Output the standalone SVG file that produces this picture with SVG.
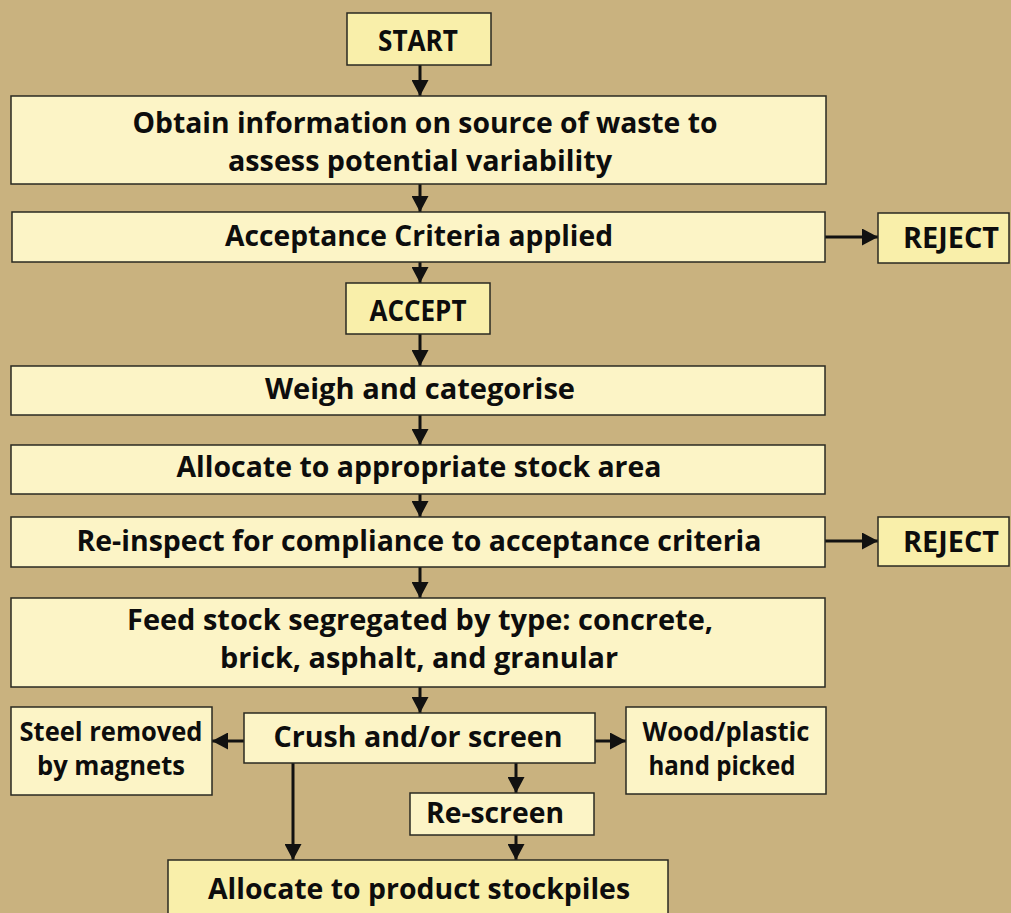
<svg xmlns="http://www.w3.org/2000/svg" width="1011" height="913" viewBox="0 0 1011 913">
<defs>
<style>
.bx{fill:#FCF4C6;stroke:#2a2a22;stroke-width:1.5}
.hy{fill:#F9EFAA}
.t{font-family:"Open Sans","DejaVu Sans",sans-serif;font-weight:700;font-size:29px;fill:#0d0d0d;text-anchor:middle}
.s{font-size:27px}
.c{stroke:#111;stroke-width:3;fill:none;marker-end:url(#ah)}
</style>
<marker id="ah" markerUnits="userSpaceOnUse" markerWidth="17" markerHeight="17" refX="16" refY="8.5" orient="auto">
<path d="M0,0 L16,8.5 L0,17 Z" fill="#111"/>
</marker>
</defs>
<rect width="1011" height="913" fill="#C9B27F"/>
<g id="connectors">
<line class="c" x1="420" y1="65" x2="420" y2="96"/>
<line class="c" x1="420" y1="184" x2="420" y2="212"/>
<line class="c" x1="825" y1="237" x2="878" y2="237"/>
<line class="c" x1="420" y1="262" x2="420" y2="283"/>
<line class="c" x1="420" y1="334" x2="420" y2="366"/>
<line class="c" x1="420" y1="415" x2="420" y2="445"/>
<line class="c" x1="420" y1="494" x2="420" y2="517"/>
<line class="c" x1="825" y1="541" x2="878" y2="541"/>
<line class="c" x1="420" y1="567" x2="420" y2="598"/>
<line class="c" x1="420" y1="687" x2="420" y2="713"/>
<line class="c" x1="244" y1="741" x2="212" y2="741"/>
<line class="c" x1="595" y1="741" x2="626" y2="741"/>
<line class="c" x1="516" y1="763" x2="516" y2="793"/>
<line class="c" x1="516" y1="835" x2="516" y2="860"/>
<line class="c" x1="293" y1="763" x2="293" y2="860"/>
</g>
<g id="start"><rect class="bx hy" x="347" y="13" width="144" height="52"/><text class="t" x="418" y="51" textLength="80" lengthAdjust="spacingAndGlyphs">START</text></g>
<g id="obtain"><rect class="bx" x="11" y="96" width="815" height="88"/><text class="t" x="425" y="133" textLength="585" lengthAdjust="spacingAndGlyphs">Obtain information on source of waste to</text><text class="t" x="420" y="171" textLength="384" lengthAdjust="spacingAndGlyphs">assess potential variability</text></g>
<g id="acceptance"><rect class="bx" x="12" y="212" width="813" height="50"/><text class="t" x="419" y="246" textLength="388" lengthAdjust="spacingAndGlyphs">Acceptance Criteria applied</text></g>
<g id="reject1"><rect class="bx hy" x="878" y="213" width="131" height="50"/><text class="t" x="951" y="248" textLength="96" lengthAdjust="spacingAndGlyphs">REJECT</text></g>
<g id="accept"><rect class="bx hy" x="346" y="283" width="144" height="51"/><text class="t" x="418" y="321" textLength="97" lengthAdjust="spacingAndGlyphs">ACCEPT</text></g>
<g id="weigh"><rect class="bx" x="11" y="366" width="814" height="49"/><text class="t" x="420" y="399" textLength="310" lengthAdjust="spacingAndGlyphs">Weigh and categorise</text></g>
<g id="allocate-stock"><rect class="bx" x="11" y="445" width="814" height="49"/><text class="t" x="419" y="477" textLength="485" lengthAdjust="spacingAndGlyphs">Allocate to appropriate stock area</text></g>
<g id="reinspect"><rect class="bx" x="11" y="517" width="814" height="50"/><text class="t" x="419" y="551" textLength="685" lengthAdjust="spacingAndGlyphs">Re-inspect for compliance to acceptance criteria</text></g>
<g id="reject2"><rect class="bx hy" x="878" y="517" width="131" height="49"/><text class="t" x="951" y="552" textLength="96" lengthAdjust="spacingAndGlyphs">REJECT</text></g>
<g id="feedstock"><rect class="bx" x="11" y="598" width="814" height="89"/><text class="t" x="420" y="630" textLength="586" lengthAdjust="spacingAndGlyphs">Feed stock segregated by type: concrete,</text><text class="t" x="419" y="668" textLength="398" lengthAdjust="spacingAndGlyphs">brick, asphalt, and granular</text></g>
<g id="crush"><rect class="bx" x="244" y="713" width="351" height="50"/><text class="t" x="418" y="747" textLength="289" lengthAdjust="spacingAndGlyphs">Crush and/or screen</text></g>
<g id="steel"><rect class="bx" x="11" y="707" width="201" height="88"/><text class="t s" x="111" y="741" textLength="183" lengthAdjust="spacingAndGlyphs">Steel removed</text><text class="t s" x="111" y="775" textLength="148" lengthAdjust="spacingAndGlyphs">by magnets</text></g>
<g id="wood"><rect class="bx" x="626" y="707" width="200" height="87"/><text class="t s" x="726" y="741" textLength="167" lengthAdjust="spacingAndGlyphs">Wood/plastic</text><text class="t s" x="722" y="775" textLength="147" lengthAdjust="spacingAndGlyphs">hand picked</text></g>
<g id="rescreen"><rect class="bx" x="410" y="793" width="184" height="42"/><text class="t" x="495" y="823" textLength="138" lengthAdjust="spacingAndGlyphs">Re-screen</text></g>
<g id="allocate-product"><rect class="bx hy" x="168" y="860" width="500" height="70"/><text class="t" x="419" y="899" textLength="422" lengthAdjust="spacingAndGlyphs">Allocate to product stockpiles</text></g>
</svg>
